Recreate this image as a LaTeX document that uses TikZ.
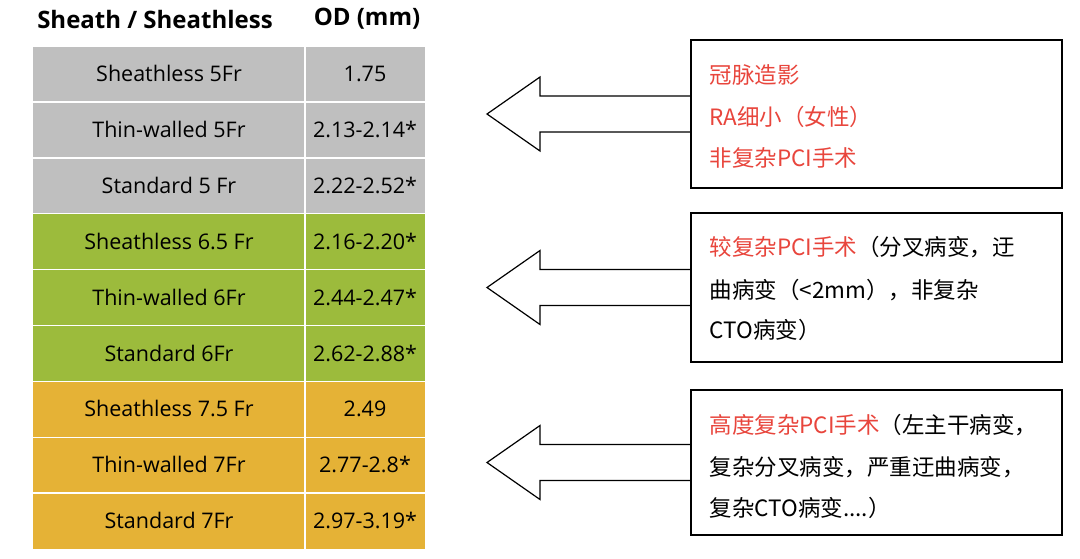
\documentclass[tikz,border=0pt]{standalone}
\usepackage{fontspec}
\setmainfont{Open Sans}
\newfontfamily\cjk{Noto Sans CJK SC}
\definecolor{gr}{HTML}{BFBFBF}
\definecolor{gn}{HTML}{9CBB3C}
\definecolor{og}{HTML}{E5B236}
\definecolor{rd}{HTML}{E8453C}
\begin{document}
\begin{tikzpicture}[x=1pt,y=-1pt,
 cell/.style={font=\fontsize{21.5}{24}\selectfont,anchor=center},
 hdr/.style={font=\fontsize{24}{27}\selectfont\bfseries},
 box/.style={draw=black,line width=1.2pt},
 arr/.style={draw=black,line width=1.2pt,fill=white,line join=miter},
 btxt/.style={font=\cjk\fontsize{22.5}{25}\selectfont,anchor=west}]
\useasboundingbox (0,0) rectangle (1080,558);
\node[hdr] (h1) at (155,19) {Sheath / Sheathless};
\node[hdr] (h2) at (367,19) {OD (mm)};
\foreach \i/\a/\b/\c in {0/Sheathless 5Fr/1.75/gr,1/Thin-walled 5Fr/2.13-2.14*/gr,2/Standard 5 Fr/2.22-2.52*/gr,
 3/Sheathless 6.5 Fr/2.16-2.20*/gn,4/Thin-walled 6Fr/2.44-2.47*/gn,5/Standard 6Fr/2.62-2.88*/gn,
 6/Sheathless 7.5 Fr/2.49/og,7/Thin-walled 7Fr/2.77-2.8*/og,8/Standard 7Fr/2.97-3.19*/og}{
 \pgfmathsetmacro\yt{46+\i*55.9}
 \fill[\c] (33,\yt) rectangle (305,\yt+55.9);
 \fill[\c] (305,\yt) rectangle (425,\yt+55.9);
 \draw[white,line width=1.5pt] (33,\yt) -- (425,\yt);
 \node[cell] (a\i) at (169,\yt+27.5) {\a};
 \node[cell] (b\i) at (365,\yt+27.5) {\b};
}
\draw[white,line width=1.5pt] (305,46) -- (305,550);
\foreach \t/\bt/\bb in {1/40/188,2/213/362,3/390/535}{
 \pgfmathsetmacro\cy{(\bt+\bb)/2}
 \draw[arr] (487,\cy) -- (540,\cy-37) -- (540,\cy-18) -- (691,\cy-18) -- (691,\cy+18) -- (540,\cy+18) -- (540,\cy+37) -- cycle;
 \draw[box] (691,\bt) rectangle (1062,\bb);
}
\node[btxt,text=rd] (t1) at (706,75) {冠脉造影};
\node[btxt,text=rd] (t2) at (706,117) {RA细小（女性）};
\node[btxt,text=rd] (t3) at (706,158) {非复杂PCI手术};
\node[btxt] (t4) at (706,247) {\textcolor{rd}{较复杂PCI手术}（分叉病变，迂};
\node[btxt] (t5) at (706,290) {曲病变（<2mm），非复杂};
\node[btxt] (t6) at (706,330) {CTO病变）};
\node[btxt] (t7) at (706,425) {\textcolor{rd}{高度复杂PCI手术}（左主干病变，};
\node[btxt] (t8) at (706,467) {复杂分叉病变，严重迂曲病变，};
\node[btxt] (t9) at (706,508) {复杂CTO病变....）};
\end{tikzpicture}
\end{document}
